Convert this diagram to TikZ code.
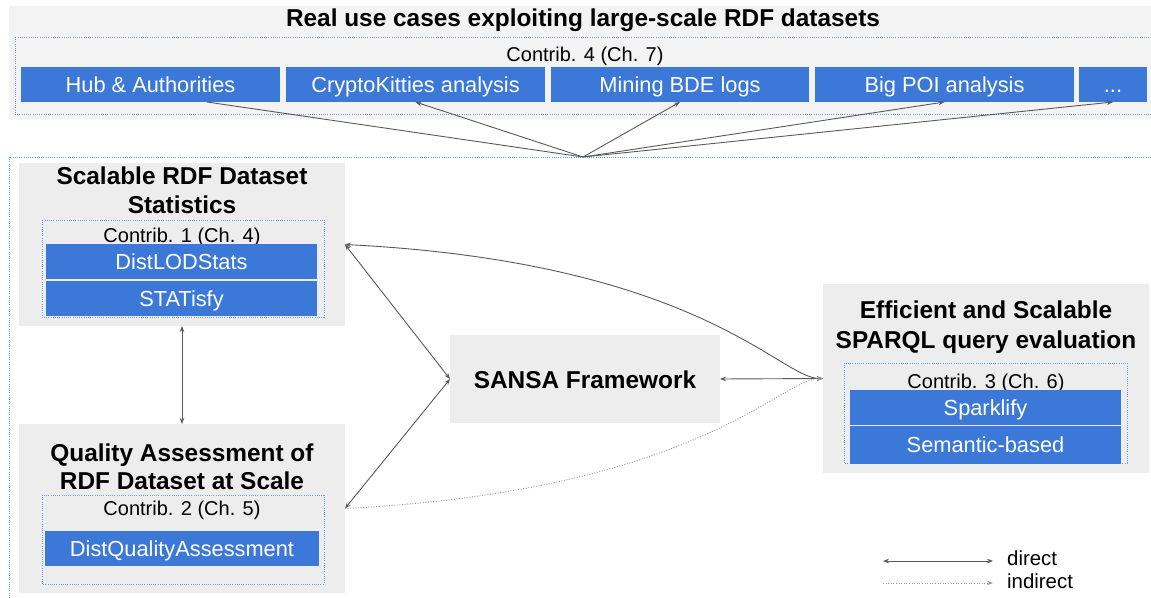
\documentclass[tikz,border=0pt]{standalone}
\usepackage{fontspec}
\setmainfont{Liberation Sans}
\usetikzlibrary{arrows.meta,calc}

\definecolor{bandgray}{HTML}{F3F3F3}
\definecolor{panelgray}{HTML}{EDEDED}
\definecolor{boxblue}{HTML}{3C78D8}
\definecolor{dotblue}{HTML}{6D9EEB}
\definecolor{linkgray}{HTML}{595959}
\definecolor{softgray}{HTML}{9A9A9A}

\tikzset{
  >={Stealth[length=6pt,width=4.5pt]},
  panel/.style={fill=panelgray, draw=none, inner sep=0pt, outer sep=0pt},
  frame/.style={draw=dotblue, line width=0.8pt, dash pattern=on 0.8pt off 1.4pt},
  bluebox/.style={fill=boxblue, text=white, inner sep=0pt, outer sep=0pt,
    font=\fontsize{21.8}{26}\selectfont, text height=15.6pt, text depth=0pt},
  heading/.style={font=\bfseries\fontsize{24.4}{29}\selectfont, anchor=base, inner sep=0pt},
  contrib/.style={font=\fontsize{20}{24}\selectfont, anchor=base, inner sep=0pt},
  legendtext/.style={font=\fontsize{20.4}{24}\selectfont, anchor=base west, inner sep=0pt},
  link/.style={draw=linkgray, line width=0.9pt},
  weaklink/.style={draw=softgray, line width=0.9pt, dash pattern=on 1pt off 1.6pt},
}

\begin{document}
\begin{tikzpicture}[x=1pt,y=-1pt]
\useasboundingbox (0,0) rectangle (1151,597);

% ---------- use-case band ----------
\fill[bandgray] (9,6) rectangle (1151,119);
\node[heading] (usetitle) at (583,27) {Real use cases exploiting large-scale RDF datasets};
\draw[frame] (15,37) rectangle (1153,114);
\node[contrib] (c4) at (585,61) {Contrib. 4 (Ch. 7)};

\node[bluebox, minimum width=259pt, minimum height=35pt] (hub) at (150.5,84.5) {Hub \& Authorities};
\node[bluebox, minimum width=259pt, minimum height=35pt] (ck) at (415.5,84.5) {CryptoKitties analysis};
\node[bluebox, minimum width=258pt, minimum height=35pt] (mining) at (680,84.5) {Mining BDE logs};
\node[bluebox, minimum width=259pt, minimum height=35pt] (poi) at (944.5,84.5) {Big POI analysis};
\node[bluebox, minimum width=68pt, minimum height=35pt] (more) at (1113,84.5) {...};

% ---------- lower frame ----------
\draw[frame] (9,600) -- (9,157) -- (1153,157);

% ---------- statistics ----------
\node[panel, minimum width=326pt, minimum height=163pt] (stats) at (182,244.5) {};
\node[heading] (statsT1) at (182,184) {Scalable RDF Dataset};
\node[heading] (statsT2) at (182,213) {Statistics};
\draw[frame] (42,220) rectangle (324,317);
\node[contrib] (c1) at (182,242) {Contrib. 1 (Ch. 4)};
\node[bluebox, minimum width=271pt, minimum height=35pt] (dls) at (181.5,261.5) {DistLODStats};
\node[bluebox, minimum width=271pt, minimum height=35pt] (statisfy) at (181.5,298.5) {STATisfy};

% ---------- quality ----------
\node[panel, minimum width=326pt, minimum height=169pt] (quality) at (182,508.5) {};
\node[heading] (qualT1) at (182,461) {Quality Assessment of};
\node[heading] (qualT2) at (182,489) {RDF Dataset at Scale};
\draw[frame] (42,495) rectangle (324,584);
\node[contrib] (c2) at (182,515) {Contrib. 2 (Ch. 5)};
\node[bluebox, minimum width=274pt, minimum height=35pt] (dqa) at (182,548.5) {DistQualityAssessment};

% ---------- SANSA ----------
\node[panel, minimum width=270pt, minimum height=88pt] (sansa) at (585,379) {};
\node[heading] (sansaT) at (585,388) {SANSA Framework};

% ---------- SPARQL ----------
\node[panel, minimum width=326pt, minimum height=189pt] (sparql) at (986,378.5) {};
\node[heading] (sparqlT1) at (986,318) {Efficient and Scalable};
\node[heading] (sparqlT2) at (986,348) {SPARQL query evaluation};
\draw[frame] (844,363) rectangle (1127,463);
\node[contrib] (c3) at (986,388) {Contrib. 3 (Ch. 6)};
\node[bluebox, minimum width=271pt, minimum height=35pt] (sparklify) at (985.5,407.5) {Sparklify};
\node[bluebox, minimum width=271pt, minimum height=38pt] (semantic) at (985.5,445) {Semantic-based};

% ---------- connectors ----------
\coordinate (fan) at (583,157);
\draw[link] (fan) -- ([xshift=56.5pt]hub.south);
\draw[link,->] (fan) -- (ck.south);
\draw[link,->] (fan) -- (mining.south);
\draw[link,->] (fan) -- (poi.south);
\draw[link,->] (fan) -- (more.south);

\draw[link,<->] (stats.south) -- (quality.north);
\draw[link,<->] (stats.east) -- (sansa.west);
\draw[link,<->] (quality.east) -- (sansa.west);
\draw[link,<->] (sansa.east) -- (sparql.west);
\draw[link,<->] (stats.east) .. controls +(355,18) and +(-43,0) .. (sparql.west);
\draw[weaklink,->] (quality.east) .. controls +(355,-18) and +(-43,0) .. (sparql.west);

% ---------- legend ----------
\coordinate (dirA) at (883,561);
\coordinate (dirB) at (993,561);
\coordinate (indA) at (883,583);
\coordinate (indB) at (993,583);
\draw[link,<->] (dirA) -- (dirB);
\draw[weaklink,->] (indA) -- (indB);
\node[legendtext] (dirT) at (1007,565.5) {direct};
\node[legendtext] (indT) at (1007,588) {indirect};
\end{tikzpicture}
\end{document}
